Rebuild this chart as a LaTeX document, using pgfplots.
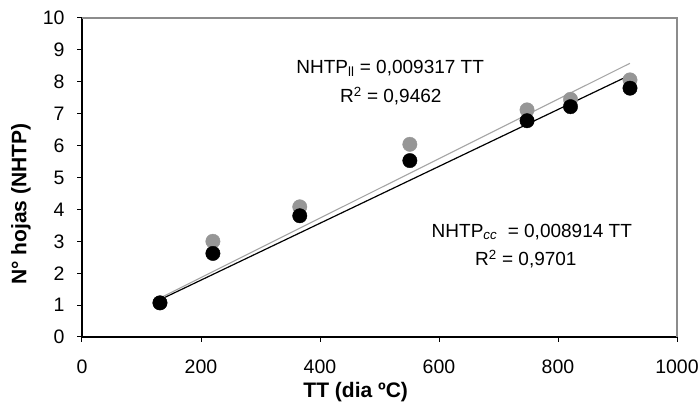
\documentclass[border=0pt]{standalone}
\usepackage{pgfplots}
\pgfplotsset{compat=1.18}
\usepackage{fontspec}
\setmainfont{Liberation Sans}
\definecolor{dotgray}{RGB}{150,150,150}
\definecolor{linegray}{RGB}{165,165,165}
\definecolor{framegray}{RGB}{140,140,140}
\begin{document}
\begin{tikzpicture}
\begin{axis}[
  scale only axis,
  width=595pt, height=319pt,
  xmin=0, xmax=1000, ymin=0, ymax=10,
  xtick={0,200,...,1000}, ytick={0,1,...,10},
  axis x line*=bottom, axis y line*=left,
  axis line style={black, line width=1.2pt, -},
  tick style={black, line width=1pt},
  tick align=outside, major tick length=5pt,
  /pgf/number format/assume math mode=true,
  /pgf/number format/1000 sep={},
  tick label style={font=\fontsize{19.5}{22}\selectfont},
  xticklabel style={yshift=-14pt},
  yticklabel style={xshift=-9pt},
  xlabel={\textbf{TT (dia ºC)}},
  ylabel={\textbf{N° hojas (NHTP)}},
  label style={font=\fontsize{21}{24}\selectfont},
  xlabel style={at={(axis description cs:0.46,0)}, anchor=center, yshift=-55pt},
  ylabel style={at={(axis description cs:0,0.417)}, anchor=center, yshift=61pt},
  clip=false,
]
\draw[framegray, line width=1.2pt] (rel axis cs:0,1) -- (rel axis cs:1,1) -- (rel axis cs:1,0);
\addplot[only marks, mark=*, mark size=7.2pt, color=dotgray, mark options={draw=dotgray, fill=dotgray}] coordinates {
(131,1.07) (220,3.00) (366,4.08) (551,6.04) (748,7.12) (821,7.45) (921,8.06)};
\addplot[only marks, mark=*, mark size=7.2pt, color=black] coordinates {
(131,1.07) (220,2.62) (366,3.80) (551,5.53) (748,6.78) (821,7.22) (921,7.80)};
\addplot[linegray, line width=1.1pt] coordinates {(131,1.221) (921,8.581)};
\addplot[black, line width=1.2pt] coordinates {(131,1.168) (921,8.210)};
\node[font=\fontsize{19}{22}\selectfont] at (axis cs:518,8.42) {NHTP\textsubscript{ll} = 0,009317 TT};
\node[font=\fontsize{19}{22}\selectfont] at (axis cs:519,7.55) {R\textsuperscript{2} = 0,9462};
\node[font=\fontsize{19}{22}\selectfont] at (axis cs:756,3.29) {NHTP\textsubscript{\textit{cc}} \ = 0,008914 TT};
\node[font=\fontsize{19}{22}\selectfont] at (axis cs:746,2.45) {R\textsuperscript{2} = 0,9701};
\end{axis}
\pgfresetboundingbox
\path (current axis.origin) ++(-82pt,-72pt) rectangle ++(699pt,409pt);
\end{tikzpicture}
\end{document}
